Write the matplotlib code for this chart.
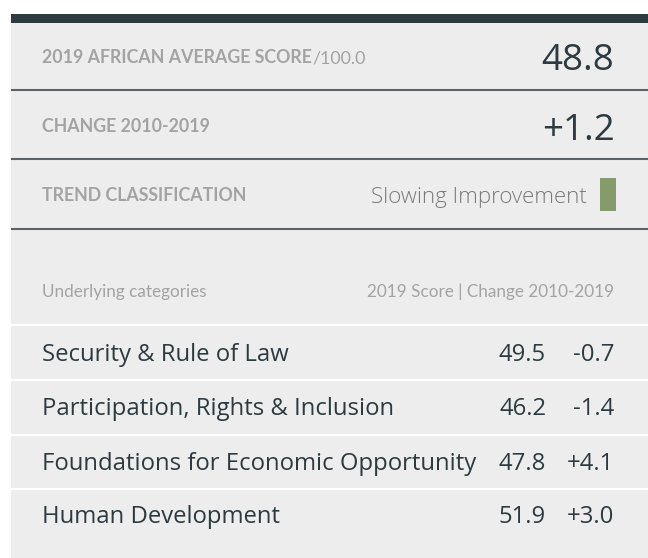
import matplotlib
matplotlib.use("Agg")
import matplotlib.pyplot as plt
from matplotlib.patches import Rectangle

# ---- data ----
headline_labels = ["2019 AFRICAN AVERAGE SCORE", "CHANGE 2010-2019", "TREND CLASSIFICATION"]
score_suffix = "/100.0"
average_score = 48.8
average_change = 1.2
trend_class = "Slowing Improvement"
trend_color = "#879a6b"

sub_header_left = "Underlying categories"
sub_header_right = "2019 Score | Change 2010-2019"
categories = ["Security & Rule of Law",
              "Participation, Rights & Inclusion",
              "Foundations for Economic Opportunity",
              "Human Development"]
scores = [49.5, 46.2, 47.8, 51.9]
changes = [-0.7, -1.4, 4.1, 3.0]

# ---- style ----
W, H = 648, 558
BG = "#ededed"
DARK = "#2d3a40"
GREY = "#a3a3a3"
LINE = "#5c6267"
FONT = "Lato"
BODY = "Open Sans"

fig = plt.figure(figsize=(W / 100, H / 100), dpi=100)
ax = fig.add_axes([0, 0, 1, 1])
ax.set_xlim(0, W)
ax.set_ylim(H, 0)
ax.axis("off")

left, right = 11, W
ax.add_patch(Rectangle((left, 22.5), right - left, H - 22.5, color=BG, lw=0))
ax.add_patch(Rectangle((left, 14), right - left, 8.5, color=DARK, lw=0))

for y in [89.5, 158.5, 228.5]:
    ax.plot([left, right], [y, y], color=LINE, lw=1.5, solid_capstyle="butt")
for y in [325, 380, 434.5, 488.5]:
    ax.plot([left, right], [y, y], color="white", lw=1.6, solid_capstyle="butt")

tx = 41.5
val_right = 614.5
label_base = [63, 132, 201]
value_base = [70.5, 140]

lab_kw = dict(fontsize=12.8, fontweight="bold", color=GREY, family=FONT, va="baseline")
t1 = ax.text(tx, label_base[0], headline_labels[0], **lab_kw)
ax.text(tx, label_base[1], headline_labels[1], **lab_kw)
ax.text(tx, label_base[2], headline_labels[2], **lab_kw)

fig.canvas.draw()
r = fig.canvas.get_renderer()
bb = t1.get_window_extent(renderer=r)
x_end = ax.transData.inverted().transform((bb.x1, bb.y0))[0]
ax.text(x_end + 1, label_base[0], score_suffix, fontsize=12.8, color=GREY,
        family=FONT, va="baseline")

ax.text(val_right, value_base[0], f"{average_score:.1f}", fontsize=26.5,
        color=DARK, family=BODY, ha="right", va="baseline")
ax.text(val_right, value_base[1], f"{average_change:+.1f}", fontsize=26.5,
        color=DARK, family=BODY, ha="right", va="baseline")

ax.add_patch(Rectangle((600, 178), 16, 33, color=trend_color, lw=0))
ax.text(587, 202.5, trend_class, fontsize=16, color="#7a7a7a", family=BODY,
        fontweight="light", ha="right", va="baseline")

ax.text(tx, 297, sub_header_left, fontsize=12.3, color=GREY, family=FONT, va="baseline")
ax.text(val_right, 297, sub_header_right, fontsize=12.3, color=GREY, family=FONT,
        ha="right", va="baseline")

row_base = [361, 415, 469.5, 523]
for name, s, c, yb in zip(categories, scores, changes, row_base):
    ax.text(tx, yb, name, fontsize=17.2, color=DARK, family=BODY, va="baseline")
    ax.text(546, yb, f"{s:.1f}", fontsize=17.2, color=DARK, family=BODY,
            ha="right", va="baseline")
    ax.text(val_right, yb, f"{c:+.1f}" if c > 0 else f"{c:.1f}", fontsize=17.2,
            color=DARK, family=BODY, ha="right", va="baseline")

fig.savefig("out.png", dpi=100, facecolor="white")
